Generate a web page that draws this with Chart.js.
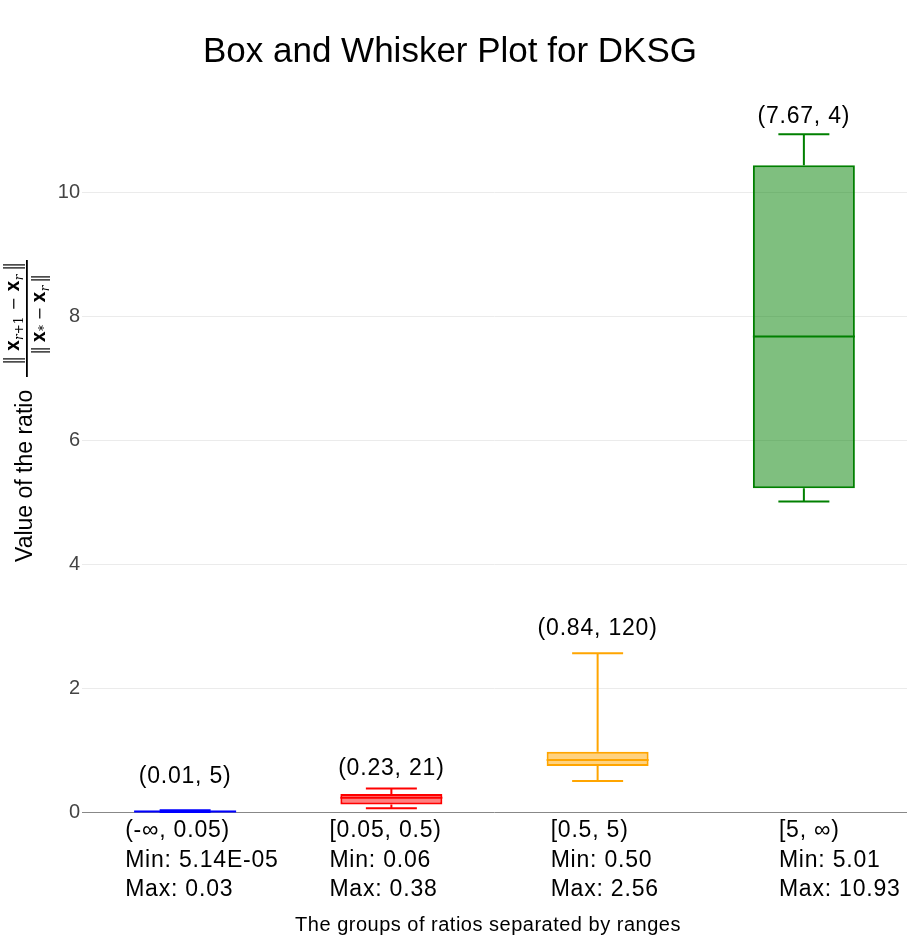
<!DOCTYPE html>
<html><head><meta charset="utf-8">
<script src="https://cdn.jsdelivr.net/npm/chart.js@4.4.1/dist/chart.umd.min.js"></script>
<style>html,body{margin:0;padding:0;background:#fff}#wrap{width:914px;height:950px;position:relative}</style>
</head><body><div id="wrap"><canvas id="c"></canvas></div>
<script>
// ---- data ----
const categories = ['(-∞, 0.05)', '[0.05, 0.5)', '[0.5, 5)', '[5, ∞)'];
const minValues = [0.0000514, 0.06, 0.50, 5.01];
const q1Values = [0.004, 0.12, 0.74, 5.22];
const medianValues = [0.01, 0.23, 0.84, 7.67];
const q3Values = [0.02, 0.29, 0.97, 10.43];
const maxValues = [0.03, 0.38, 2.56, 10.93];
const counts = [5, 21, 120, 4];
const minLabels = ['5.14E-05', '0.06', '0.50', '5.01'];
const maxLabels = ['0.03', '0.38', '2.56', '10.93'];
const yTickValues = [0, 2, 4, 6, 8, 10];

// ---- styles / layout ----
const strokeColors = ['rgb(0,0,255)', 'rgb(255,0,0)', 'rgb(255,165,0)', 'rgb(0,128,0)'];
const fillColors = ['rgba(0,0,255,0.5)', 'rgba(255,0,0,0.5)', 'rgba(255,165,0,0.5)', 'rgba(0,128,0,0.5)'];
const xLabelShift = [-60, -62, -47, -25];
const annoGap = [27, 13, 18, 11];
const FONT = '"Liberation Sans", Arial, sans-serif';
Chart.defaults.font.family = FONT;

function mathRow(ctx, items, centerU, baseV, barTop, barBottom, target) {
  let w = 0, gaps = 0;
  for (const it of items) {
    if (it.bar) w += it.adv;
    else if (it.gap) gaps++;
    else { ctx.font = it.font; w += ctx.measureText(it.t).width; }
  }
  const gapW = gaps ? Math.max(0, (target - w) / gaps) : 0;
  let u = centerU - (w + gapW * gaps) / 2;
  for (const it of items) {
    if (it.bar) {
      ctx.fillRect(u + 0.5, barTop, 1.2, barBottom - barTop);
      ctx.fillRect(u + 3.5, barTop, 1.2, barBottom - barTop);
      u += it.adv;
    } else if (it.gap) {
      u += gapW;
    } else {
      ctx.font = it.font;
      ctx.fillText(it.t, u, baseV + (it.dy || 0));
      u += ctx.measureText(it.t).width;
    }
  }
}

const decorPlugin = {
  id: 'decor',
  afterDatasetsDraw(chart) {
    const ctx = chart.ctx;
    const ys = chart.scales.y, xs = chart.scales.x;
    const meta = chart.getDatasetMeta(0);
    ctx.save();
    categories.forEach((c, i) => {
      const el = meta.data[i];
      const x = el.x, w = el.width;
      const yMin = ys.getPixelForValue(minValues[i]);
      const yQ1 = ys.getPixelForValue(q1Values[i]);
      const yMed = ys.getPixelForValue(medianValues[i]);
      const yQ3 = ys.getPixelForValue(q3Values[i]);
      const yMax = ys.getPixelForValue(maxValues[i]);
      ctx.strokeStyle = strokeColors[i];
      ctx.lineWidth = 2;
      ctx.beginPath();
      ctx.moveTo(x, yQ3); ctx.lineTo(x, yMax);
      ctx.moveTo(x - w / 4, yMax); ctx.lineTo(x + w / 4, yMax);
      ctx.moveTo(x, yQ1); ctx.lineTo(x, yMin);
      ctx.moveTo(x - w / 4, yMin); ctx.lineTo(x + w / 4, yMin);
      ctx.moveTo(x - w / 2, yMed); ctx.lineTo(x + w / 2, yMed);
      ctx.stroke();
      // annotation
      ctx.fillStyle = '#000';
      ctx.font = '23px ' + FONT;
      ctx.letterSpacing = '0.8px';
      ctx.textAlign = 'center';
      ctx.textBaseline = 'alphabetic';
      ctx.fillText('(' + medianValues[i].toFixed(2) + ', ' + counts[i] + ')', x, yMax - annoGap[i]);
      // x labels
      ctx.textAlign = 'left';
      const lx = xs.getPixelForValue(i) + xLabelShift[i];
      const lines = [c, 'Min: ' + minLabels[i], 'Max: ' + maxLabels[i]];
      lines.forEach((t, k) => ctx.fillText(t, lx, 837 + k * 29.5));
    });
    ctx.letterSpacing = '0px';
    // title
    ctx.fillStyle = '#000';
    ctx.textAlign = 'center';
    ctx.font = '35px ' + FONT;
    ctx.fillText('Box and Whisker Plot for DKSG', 450, 62);
    // x title
    ctx.font = '20px ' + FONT;
    ctx.letterSpacing = '0.5px';
    ctx.fillText('The groups of ratios separated by ranges', 488, 931);
    ctx.letterSpacing = '0px';
    // y title
    ctx.translate(32, 562);
    ctx.rotate(-Math.PI / 2);
    ctx.textAlign = 'left';
    ctx.font = '23px ' + FONT;
    ctx.fillText('Value of the ratio', 0, 0);
    ctx.fillRect(185, -6, 117, 1.8);
    const bx = 'bold 19px "DejaVu Sans Mono", monospace';
    const it = 'italic 12px "DejaVu Serif", serif';
    const rg = '12px "DejaVu Serif", serif';
    const mn = '16px "DejaVu Serif", serif';
    mathRow(ctx, [
      { bar: true, adv: 6 }, { gap: true },
      { t: 'x', font: bx }, { t: 'r', font: it, dy: 4 }, { t: '+', font: rg, dy: 4 }, { t: '1', font: rg, dy: 4 },
      { gap: true }, { t: '−', font: mn }, { gap: true },
      { t: 'x', font: bx }, { t: 'r', font: it, dy: 4 }, { gap: true },
      { bar: true, adv: 6 }
    ], 249, -13, -29, -7, 100);
    mathRow(ctx, [
      { bar: true, adv: 6 }, { gap: true },
      { t: 'x', font: bx }, { t: '*', font: rg, dy: 3 },
      { gap: true }, { t: '−', font: mn }, { gap: true },
      { t: 'x', font: bx }, { t: 'r', font: it, dy: 4 }, { gap: true },
      { bar: true, adv: 6 }
    ], 248, 13, -1, 18, 78);
    ctx.restore();
  }
};

new Chart(document.getElementById('c'), {
  type: 'bar',
  data: {
    labels: categories,
    datasets: [{
      data: categories.map((c, i) => [q1Values[i], q3Values[i]]),
      backgroundColor: fillColors,
      borderColor: strokeColors,
      borderWidth: 2,
      borderSkipped: false,
      barPercentage: 0.4945,
      categoryPercentage: 1,
      clip: false
    }]
  },
  options: {
    responsive: true,
    maintainAspectRatio: false,
    animation: false,
    layout: { padding: { top: 99, right: 7, bottom: 0, left: 0 } },
    plugins: { legend: { display: false }, tooltip: { enabled: false }, title: { display: false } },
    scales: {
      x: {
        type: 'category',
        grid: { display: false },
        border: { display: false },
        ticks: { display: false },
        afterFit(s) { s.height = 138; }
      },
      y: {
        min: 0, max: 11.5,
        afterFit(s) { s.width = 82; },
        afterBuildTicks(s) { s.ticks = yTickValues.map(v => ({ value: v })); },
        ticks: { padding: 2, color: '#444', font: { size: 20 } },
        grid: {
          drawTicks: false,
          lineWidth: 1,
          color: (c) => (c.tick && c.tick.value === 0 ? '#888' : '#ebebeb')
        },
        border: { display: false }
      }
    }
  },
  plugins: [decorPlugin]
});
</script>
</body></html>
